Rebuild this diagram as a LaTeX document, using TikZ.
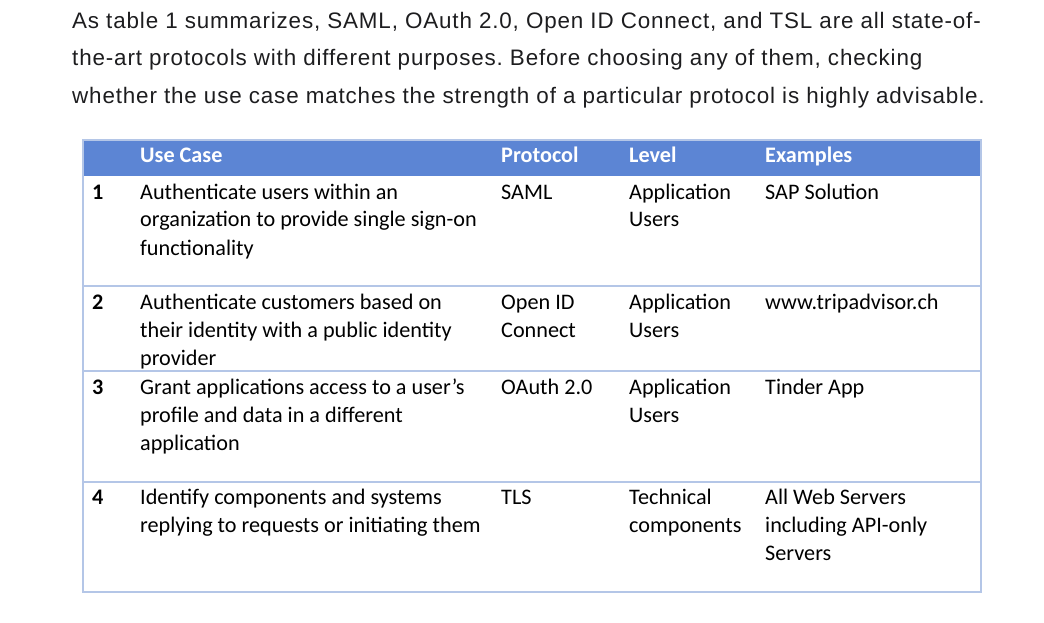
\documentclass[tikz,border=0pt]{standalone}
\usepackage{fontspec}
\setmainfont{Carlito}
\newfontfamily\parafont[LetterSpace=3.8]{Liberation Sans}
\usetikzlibrary{positioning}
\frenchspacing

\definecolor{headblue}{RGB}{92,133,212}
\definecolor{gridblue}{RGB}{180,198,231}
\definecolor{inkgray}{RGB}{29,29,31}

% lines stacked under the first baseline
\newcommand{\cellrows}[1]{\begin{tabular}[t]{@{}l@{}}#1\end{tabular}}

\begin{document}
\begin{tikzpicture}[x=1pt, y=-1pt,
    cell/.style = {anchor=base west, inner sep=0pt, font={\fontsize{22.2}{28}\selectfont}},
    head/.style = {cell, text=white, font={\fontsize{22.2}{28}\selectfont\bfseries}},
    num/.style = {cell, font={\fontsize{22.2}{28}\selectfont\bfseries}},
    rule/.style = {draw=gridblue, line width=1.3pt}]
    \useasboundingbox (0,0) rectangle (1044,623);

    \node (para) [anchor=base west, inner sep=0pt, text=inkgray, font={\parafont\fontsize{22.4}{37.5}\selectfont}] at (72,28.5)
      {\cellrows{As table 1 summarizes, SAML, OAuth 2.0, Open ID Connect, and TSL are all state-of-\\
       the-art protocols with different purposes. Before choosing any of them, checking\\
       whether the use case matches the strength of a particular protocol is highly advisable.}};

    % table frame
    \coordinate (tl) at (83,140);
    \coordinate (hr) at (981,176);
    \coordinate (br) at (981,592);
    \fill[headblue] (tl) rectangle (hr);
    \draw[rule] (tl) rectangle (br);
    \foreach \y in {286,371,482}
      \draw[rule] (83,\y) -- (981,\y);

    % header
    \node[head] (hUse) at (140,162) {Use Case};
    \node[head] (hPro) at (501,162) {Protocol};
    \node[head] (hLev) at (629,162) {Level};
    \node[head] (hEx) at (765,162) {Examples};

    % row 1
    \node[num] (n1) at (92,199) {1};
    \node[cell] (uc1) at (140,199) {\cellrows{Authenticate users within an\\organization to provide single sign-on\\functionality}};
    \node[cell] (pr1) at (501,199) {SAML};
    \node[cell] (lv1) at (629,199) {\cellrows{Application\\Users}};
    \node[cell] (ex1) at (765,199) {SAP Solution};

    % row 2
    \node[num] (n2) at (92,309) {2};
    \node[cell] (uc2) at (140,309) {\cellrows{Authenticate customers based on\\their identity with a public identity\\provider}};
    \node[cell] (pr2) at (501,309) {\cellrows{Open ID\\Connect}};
    \node[cell] (lv2) at (629,309) {\cellrows{Application\\Users}};
    \node[cell] (ex2) at (765,309) {www.tripadvisor.ch};

    % row 3
    \node[num] (n3) at (92,394) {3};
    \node[cell] (uc3) at (140,394) {\cellrows{Grant applications access to a user’s\\profile and data in a different\\application}};
    \node[cell] (pr3) at (501,394) {OAuth 2.0};
    \node[cell] (lv3) at (629,394) {\cellrows{Application\\Users}};
    \node[cell] (ex3) at (765,394) {Tinder App};

    % row 4
    \node[num] (n4) at (92,504) {4};
    \node[cell] (uc4) at (140,504) {\cellrows{Identify components and systems\\replying to requests or initiating them}};
    \node[cell] (pr4) at (501,504) {TLS};
    \node[cell] (lv4) at (629,504) {\cellrows{Technical\\components}};
    \node[cell] (ex4) at (765,504) {\cellrows{All Web Servers\\including API-only\\Servers}};
\end{tikzpicture}
\end{document}
